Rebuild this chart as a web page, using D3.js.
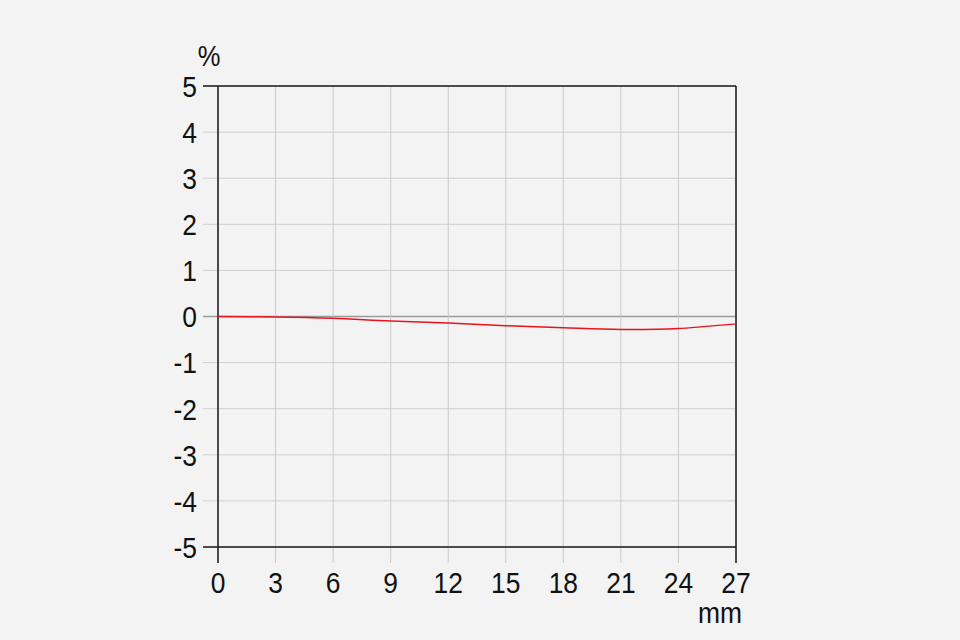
<!DOCTYPE html>
<html>
<head>
<meta charset="utf-8">
<script src="https://cdn.jsdelivr.net/npm/d3@7"></script>
<style>
  body { margin: 0; background: #f3f3f3; }
  text { font-family: "Liberation Sans", Arial, sans-serif; fill: #111; }
</style>
</head>
<body>
<div id="chart"></div>
<script>
// data
const xTicks = [0, 3, 6, 9, 12, 15, 18, 21, 24, 27];
const yTicks = [-5, -4, -3, -2, -1, 0, 1, 2, 3, 4, 5];
const imageHeight = [0, 3, 6, 9, 12, 15, 18, 21, 24, 27];
const distortion = [0, -0.01, -0.04, -0.1, -0.14, -0.2, -0.245, -0.28, -0.26, -0.16];

const width = 960;
const height = 640;
const margin = { top: 86, right: 224, bottom: 93, left: 218 };

const svg = d3.select("#chart")
  .append("svg")
  .attr("width", width)
  .attr("height", height);

const x = d3.scaleLinear()
  .domain([0, 27])
  .range([margin.left, width - margin.right]);

const y = d3.scaleLinear()
  .domain([-5, 5])
  .range([height - margin.bottom, margin.top]);

const tickLen = 15;
// labels in the picture are a bit condensed
const squeeze = 0.88;

// horizontal grid + left ticks
svg.append("g")
  .selectAll("line")
  .data(yTicks)
  .join("line")
  .attr("x1", margin.left - tickLen)
  .attr("x2", x(27))
  .attr("y1", d => y(d))
  .attr("y2", d => y(d))
  .attr("stroke", d => d === 0 ? "#9a9a9a" : "#cfcfcf")
  .attr("stroke-width", d => d === 0 ? 1.5 : 1);

// vertical grid + bottom ticks
svg.append("g")
  .selectAll("line")
  .data(xTicks)
  .join("line")
  .attr("x1", d => x(d))
  .attr("x2", d => x(d))
  .attr("y1", y(5))
  .attr("y2", y(-5) + tickLen + 1)
  .attr("stroke", "#cacaca")
  .attr("stroke-width", 1);

// frame
const frame = svg.append("g").attr("stroke", "#1a1a1a").attr("stroke-width", 1.5);
frame.append("line").attr("x1", x(0) - tickLen).attr("x2", x(27)).attr("y1", y(5)).attr("y2", y(5));
frame.append("line").attr("x1", x(0) - tickLen).attr("x2", x(27)).attr("y1", y(-5)).attr("y2", y(-5));
frame.append("line").attr("x1", x(0)).attr("x2", x(0)).attr("y1", y(5)).attr("y2", y(-5) + tickLen + 1);
frame.append("line").attr("x1", x(27)).attr("x2", x(27)).attr("y1", y(5)).attr("y2", y(-5) + tickLen + 1);

// y labels
svg.append("g")
  .selectAll("text")
  .data(yTicks)
  .join("text")
  .attr("transform", d => `translate(${margin.left - 21},${y(d)}) scale(${squeeze},1)`)
  .attr("dy", "0.36em")
  .attr("text-anchor", "end")
  .attr("font-size", 30)
  .text(d => d);

// x labels
svg.append("g")
  .selectAll("text")
  .data(xTicks)
  .join("text")
  .attr("transform", d => `translate(${x(d)},${y(-5) + 46}) scale(${squeeze},1)`)
  .attr("text-anchor", "middle")
  .attr("font-size", 30)
  .text(d => d);

// units
svg.append("text")
  .attr("transform", `translate(209,66) scale(${squeeze},1)`)
  .attr("text-anchor", "middle")
  .attr("font-size", 29)
  .text("%");

svg.append("text")
  .attr("transform", `translate(720,623) scale(${squeeze},1)`)
  .attr("text-anchor", "middle")
  .attr("font-size", 30)
  .text("mm");

// distortion curve
const line = d3.line()
  .x((d, i) => x(imageHeight[i]))
  .y(d => y(d))
  .curve(d3.curveCatmullRom);

svg.append("path")
  .datum(distortion)
  .attr("fill", "none")
  .attr("stroke", "#e8141b")
  .attr("stroke-width", 1.5)
  .attr("d", line);
</script>
</body>
</html>
